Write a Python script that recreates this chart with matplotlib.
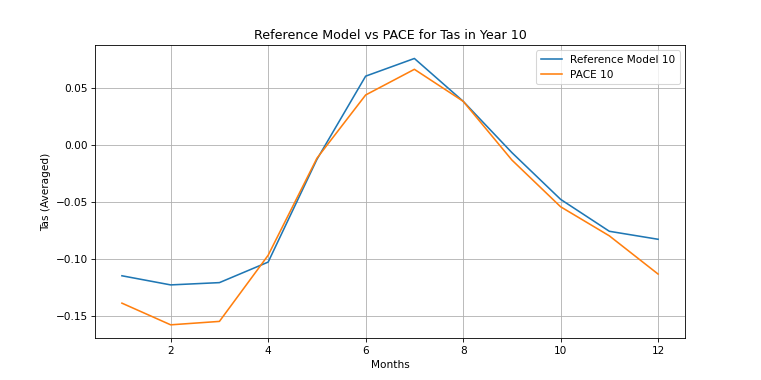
import numpy as np
import matplotlib
matplotlib.use("Agg")
import matplotlib.pyplot as plt

months = np.arange(1, 13)
ref_model = [-0.115, -0.123, -0.121, -0.103, -0.013, 0.060,
             0.0755, 0.038, -0.007, -0.048, -0.076, -0.083]
pace = [-0.139, -0.158, -0.155, -0.097, -0.012, 0.0435,
        0.066, 0.038, -0.0135, -0.0545, -0.080, -0.1135]

plt.figure(figsize=(10, 5))
plt.plot(months, ref_model, label="Reference Model 10")
plt.plot(months, pace, label="PACE 10")
plt.title("Reference Model vs PACE for Tas in Year 10")
plt.xlabel("Months")
plt.ylabel("Tas (Averaged)")
plt.legend()
plt.grid(True)
plt.savefig("out.png", dpi=76.1)
